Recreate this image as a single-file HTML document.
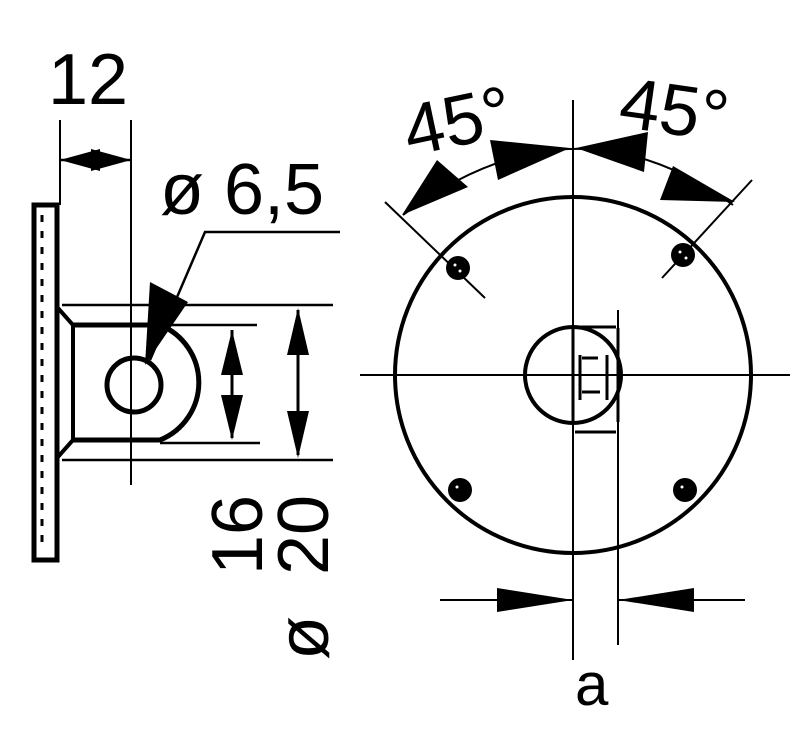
<!DOCTYPE html>
<html><head><style>body{margin:0;background:#fff}svg{display:block}</style></head><body>
<svg width="800" height="730" viewBox="0 0 800 730" xmlns="http://www.w3.org/2000/svg" font-family="Liberation Sans, sans-serif">
<g stroke="#000" fill="none">
<rect x="34" y="205" width="23" height="355" stroke-width="5"/>
<line x1="42" y1="215" x2="42" y2="550" stroke-width="3" stroke-dasharray="7,9"/>
<path d="M57 307 L73 325 L73 440 L57 458" stroke-width="4"/>
<path d="M73 325 L160 325 A62 62 0 0 1 160 440 L73 440" stroke-width="5"/>
<circle cx="134" cy="385" r="27" stroke-width="5"/>
<line x1="131" y1="120" x2="131" y2="485" stroke-width="2"/>
<line x1="60" y1="120" x2="60" y2="205" stroke-width="2"/>
<line x1="62" y1="305" x2="333" y2="305" stroke-width="2.5"/>
<line x1="62" y1="460" x2="333" y2="460" stroke-width="2.5"/>
<line x1="160" y1="325" x2="257" y2="325" stroke-width="2.5"/>
<line x1="160" y1="443" x2="260" y2="443" stroke-width="2.5"/>
<line x1="60" y1="160" x2="131" y2="160" stroke-width="2.5"/>
<line x1="232" y1="330" x2="232" y2="438" stroke-width="3"/>
<line x1="298" y1="310" x2="298" y2="455" stroke-width="3"/>
<path d="M150 360 L205 232 L340 232" stroke-width="2.5"/>
<circle cx="573" cy="375" r="178" stroke-width="4"/>
<circle cx="573" cy="375" r="48" stroke-width="4"/>
<line x1="360" y1="375" x2="790" y2="375" stroke-width="2"/>
<line x1="573" y1="100" x2="573" y2="660" stroke-width="2"/>
<line x1="618" y1="310" x2="618" y2="645" stroke-width="2"/>
<path d="M573 328 L573 422 M618 328 L618 422 M575 327 L616 327 M575 432 L616 432 M580 355 L580 400 M607 355 L607 400 M582 358 L598 358 M582 392 L600 392" stroke-width="3"/>
<line x1="385" y1="202" x2="485" y2="298" stroke-width="2"/>
<line x1="752" y1="180" x2="662" y2="278" stroke-width="2"/>
<path d="M403 215 Q573 88 733 205" stroke-width="2"/>
<line x1="440" y1="600" x2="573" y2="600" stroke-width="2"/>
<line x1="618" y1="600" x2="745" y2="600" stroke-width="2"/>
</g>
<g fill="#000">
<circle cx="458" cy="268" r="12"/><circle cx="683" cy="255" r="12"/>
<circle cx="460" cy="490" r="12"/><circle cx="685" cy="490" r="12"/>
<polygon points="60,160 100,149 100,171"/><polygon points="131,160 91,149 91,171"/>
<polygon points="232,330 221,375 243,375"/><polygon points="232,440 221,395 243,395"/>
<polygon points="298,308 287,355 309,355"/><polygon points="298,458 287,411 309,411"/>
<polygon points="145,365 150,282 188,302"/>
<polygon points="573,600 497,588 497,612"/><polygon points="618,600 694,588 694,612"/>
<polygon points="402,215 437,160 468,187"/>
<polygon points="570,148 490,140 498,180"/>
<polygon points="576,148 648,132 644,172"/>
<polygon points="735,202 673,166 660,200"/>
</g>
<g fill="#fff">
<circle cx="455" cy="265" r="1.5"/><circle cx="460" cy="271" r="1.5"/>
<circle cx="680" cy="252" r="1.5"/><circle cx="686" cy="258" r="1.5"/>
<circle cx="457" cy="487" r="1.5"/><circle cx="682" cy="487" r="1.5"/>
</g>
<g font-size="72" fill="#000">
<text x="48" y="104">12</text>
<text x="160" y="214">ø 6,5</text>
<text x="403" y="145" transform="rotate(-12 460 120)">45°</text>
<text x="620" y="135" transform="rotate(8 680 110)">45°</text>
<text x="575" y="705" font-size="60">a</text>
<text transform="translate(262 575) rotate(-90)">16</text>
<text transform="translate(328 575) rotate(-90)">20</text>
<text transform="translate(328 660) rotate(-90)">ø</text>
</g>
</svg>
</body></html>
